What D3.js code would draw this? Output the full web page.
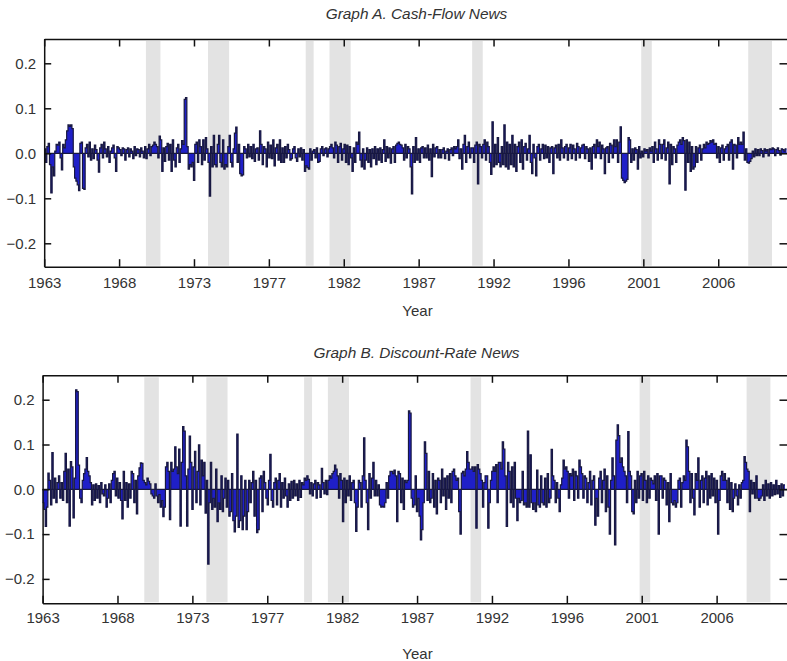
<!DOCTYPE html>
<html>
<head>
<meta charset="utf-8">
<script src="https://d3js.org/d3.v7.min.js"></script>
<style>
  body { margin: 0; background: #fff; }
  svg { display: block; }
</style>
</head>
<body>
<svg id="chart" width="787" height="661"></svg>
<script>
// monthly news terms, first value is 1963:07, one row per 12 months
var startYear = 1963.5;

var cashFlowNews = [].concat(
  [.01,-.02,.015,.022,-.025,-.088,-.03,-.05,.005,.02,.018,.025],
  [-.01,-.037,.02,.012,.03,.05,.063,.06,.063,.055,-.03,-.055],
  [-.062,-.07,-.083,.022,.025,-.078,-.08,.012,.02,-.008,.025,-.015],
  [.01,-.012,.018,.008,-.015,-.042,.012,.02,-.01,.025,.01,-.008],
  [.015,-.02,.005,.012,.018,-.01,-.04,.015,.012,.008,-.005,.012],
  [.01,-.015,.008,.012,-.008,.01,.005,-.012,.015,-.005,.01,.008],
  [-.008,.012,.005,-.01,.015,-.012,.01,.02,-.005,.015,.018,.025],
  [.02,.015,-.01,.038,.03,-.04,.012,-.018,.015,.022,-.015,.02],
  [-.04,.03,-.015,-.03,.012,.02,-.02,.01,.028,.02,.12,.124],
  [.015,-.035,-.025,-.03,-.02,-.06,.02,.025,-.02,.03,.015,-.025],
  [.03,-.015,.035,.01,-.02,-.095,.015,-.03,.04,-.025,-.03,.02],
  [.04,-.02,-.03,.03,-.035,-.025,-.03,.015,.04,-.02,-.03,.01],
  [.045,.058,-.02,.02,-.045,-.05,-.048,.015,.01,-.01,.02,-.008],
  [.015,-.012,.02,-.018,.01,.012,-.015,.05,.02,-.025,.015,.01],
  [-.03,.025,-.01,.018,-.012,.03,-.028,.012,.02,-.015,.03,-.02],
  [.012,-.02,.015,-.01,.02,.008,-.015,-.012,.01,.015,-.01,-.018],
  [.01,-.008,.012,-.015,.008,-.04,-.028,-.032,-.035,.01,-.015,.005],
  [.008,-.01,.012,-.02,-.018,.01,.015,-.005,.01,.012,-.008,.01],
  [.015,.02,.012,-.01,.025,.018,-.02,.015,.022,-.015,.01,.02],
  [-.02,.018,-.025,.015,-.01,-.04,.012,-.02,.025,.02,.047,-.015],
  [-.03,.01,-.035,-.015,.012,-.02,.008,-.03,.01,-.012,.015,-.025],
  [.01,-.015,.012,-.02,.008,.03,-.018,.015,-.01,.012,-.022,.01],
  [.015,-.02,.018,.022,.025,.02,.018,.012,-.015,.02,-.01,.015],
  [.01,-.03,-.09,.015,-.02,.035,-.015,.01,-.02,.012,.015,-.01],
  [.012,-.01,.018,-.015,.01,-.052,.02,-.008,.012,.015,-.01,.008],
  [-.01,.008,.012,-.012,.005,.01,-.015,.008,.012,-.005,.015,.01],
  [.015,.03,-.012,.01,-.035,.02,.04,-.02,.015,.025,-.01,.012],
  [.012,-.02,.018,.025,-.068,.02,.015,-.01,.02,.03,-.015,.025],
  [.015,-.02,-.047,.07,-.03,.02,-.025,.035,-.02,-.03,.015,-.025],
  [.063,-.03,.025,-.035,.02,-.025,.04,-.03,.02,-.04,.015,.025],
  [-.02,.03,-.035,.015,.022,-.015,.01,.04,-.02,-.045,.02,-.01],
  [-.05,.015,.02,-.015,.01,.02,-.012,.018,-.01,.015,-.02,.012],
  [.015,-.045,.012,.018,-.01,.02,-.015,.03,.012,-.01,.015,.02],
  [-.015,.012,.02,-.012,.018,.01,-.015,.022,.015,-.01,.012,.018],
  [.02,-.012,.015,.01,-.018,.012,-.035,.015,.02,-.01,.03,.015],
  [.025,-.012,.018,.01,-.045,.012,.015,-.02,.022,.018,-.01,.03],
  [.015,.03,-.02,.025,.059,-.055,-.06,-.065,-.062,-.058,.035,.03],
  [-.02,.01,-.015,.012,.008,-.035,.015,-.01,.005,-.008,.01,.005],
  [.008,-.01,.012,.005,.015,-.02,.025,.01,-.015,.03,.02,-.012],
  [.02,.03,-.015,.012,.025,-.068,.02,-.025,.015,.01,-.02,.018],
  [.025,.03,.02,.035,.028,-.082,.03,-.02,.025,-.04,.015,-.035],
  [-.03,.015,-.02,.012,.018,-.015,.01,.02,.012,.025,.02,.022],
  [.028,.025,.03,.02,.022,-.01,.015,-.02,.012,.018,-.015,.01],
  [.015,.02,-.015,.025,.03,-.035,.02,.018,-.01,.035,.02,.025],
  [.02,.047,-.015,.01,-.02,-.022,-.018,-.012,.005,-.008,.01,-.005],
  [.008,-.005,.01,.006,-.008,.01,.005,.008,-.006,.01,.008,.012],
  [.01,-.005,.008,.012,.006,-.004,.01,.008,.005,.01]
);

var discountRateNews = [].concat(
  [-.03,-.045,-.083,-.04,.036,.02,-.035,.082,-.02,.025,-.03,.015],
  [.03,-.02,.015,-.025,.04,.08,-.03,.045,-.082,.062,.05,-.064],
  [.025,.222,.218,.054,-.02,-.03,.02,.035,.045,.071,.04,.03],
  [.015,-.035,.01,-.025,.012,-.02,.008,-.03,.015,-.01,-.015,.01],
  [-.04,-.02,.012,-.03,.02,.035,.04,-.015,.025,-.02,.015,-.025],
  [-.066,.04,-.025,.015,-.04,.012,-.02,.04,.035,-.03,.02,-.055],
  [.03,.048,.059,.058,.02,.015,.01,.025,.018,.012,-.01,-.015],
  [-.02,.012,-.015,-.03,-.012,-.04,-.025,-.061,-.04,.05,.06,.04],
  [-.068,.06,.04,.045,.095,.05,.035,.09,-.082,.06,.14,.13],
  [.03,-.082,.045,.119,.06,-.045,.05,.085,-.03,.04,.099,-.035],
  [.065,.03,.06,-.053,.02,-.167,-.03,.06,-.045,-.02,-.04,.045],
  [-.072,-.03,-.045,.03,-.05,-.02,.025,-.04,.02,-.06,-.05,.035],
  [-.07,-.095,-.06,.123,-.085,-.07,.03,-.09,-.06,.02,-.09,-.05],
  [.02,-.03,.015,.04,-.06,.02,-.097,-.09,.025,.03,-.05,.04],
  [.015,-.02,-.035,.02,.078,-.025,-.04,.015,.025,-.035,.02,.035],
  [-.04,.015,-.02,.025,-.015,-.04,.012,-.025,.018,-.02,.02,-.015],
  [.012,-.025,.02,-.018,.015,.01,.025,.02,.03,.022,-.01,.015],
  [-.015,.012,.02,-.02,.015,.01,-.018,.047,.015,-.01,.02,-.012],
  [.02,.03,.025,.035,.04,.054,.045,.03,-.02,.035,.02,-.072],
  [.025,-.03,.02,-.015,.03,-.025,.015,.02,-.03,-.094,-.04,.02],
  [.015,-.04,.03,.115,.02,-.03,-.09,.035,-.02,.025,.06,-.015],
  [.02,-.015,.01,-.035,-.04,-.038,-.04,-.03,.015,-.02,.03,.04],
  [.04,.035,.043,.03,-.072,.04,.035,-.03,.025,-.045,.02,.015],
  [.02,.175,.17,-.02,-.04,-.035,.03,-.05,-.02,-.06,-.113,-.09],
  [-.03,.106,.08,-.025,.04,-.03,-.02,.035,-.04,.02,-.055,.025],
  [.02,-.03,.045,-.015,.025,-.045,.03,-.02,.035,-.03,.04,.045],
  [.03,.02,.025,-.05,-.1,.036,.04,.03,.045,.084,.06,.045],
  [.045,.05,.04,.05,-.087,.055,.045,.035,.02,-.04,.015,.03],
  [.03,-.087,-.03,.02,.04,.05,.04,.055,-.03,.06,.06,.045],
  [.106,.09,.03,-.083,.06,.04,-.03,.05,-.04,.06,-.02,-.07],
  [-.02,-.03,-.025,.04,-.035,-.03,-.04,.13,-.04,.077,-.03,-.045],
  [-.03,-.05,.043,-.035,-.04,.03,-.03,-.035,.025,-.04,.035,-.03],
  [-.02,.089,.03,.02,-.03,.015,-.02,-.05,.01,.025,.065,.045],
  [.05,.04,-.02,.035,.03,.045,-.025,.04,.03,-.02,.065,.05],
  [.035,-.02,.03,.025,-.03,.015,.04,-.035,.02,.03,-.08,-.02],
  [-.06,.025,.04,-.03,.02,.045,-.05,.03,-.04,-.1,.02,.07],
  [.03,-.124,.11,.144,.12,.06,.07,.05,.04,.03,-.03,.129],
  [.04,.03,-.05,-.055,.02,-.03,.04,-.02,.03,.035,-.025,.04],
  [.02,-.03,.03,-.02,.025,.02,.012,.03,-.025,.035,-.1,.03],
  [.03,-.02,.025,.02,-.035,.015,-.072,.035,-.03,-.035,-.025,-.04],
  [-.03,.02,.025,-.04,.015,.03,.02,.11,.095,.04,-.03,.035],
  [-.02,-.057,.035,.02,.07,-.04,.02,.03,-.03,.025,.04,-.035],
  [.03,-.02,.035,-.015,.025,-.03,.02,-.1,-.025,.03,.04,.02],
  [.035,.02,-.03,.025,-.045,.015,-.05,-.02,.012,-.015,-.035,.01],
  [-.02,.015,.02,.073,.06,.045,.04,-.05,.02,-.01,.015,-.02],
  [.03,-.02,-.025,-.02,-.015,.01,-.025,.02,-.015,.012,-.02,.015],
  [-.015,.01,-.012,.02,-.01,.008,-.018,.012,-.015,.01]
);

// NBER recessions, decimal years
var recessions = [
  [1969.917, 1970.833], [1973.833, 1975.167], [1980.0, 1980.5],
  [1981.5, 1982.833], [1990.5, 1991.167], [2001.167, 2001.833],
  [2007.917, 2009.417]
];

var tickLabels = ['1963', '1968', '1973', '1977', '1982', '1987', '1992', '1996', '2001', '2006'];
var tickStep = 4.725; // years between labelled ticks
var yTicks = [-0.2, -0.1, 0.0, 0.1, 0.2];

var fontFamily = '"Liberation Sans", Arial, sans-serif';
var pxPerYear = 15.85;
var rightEdge = 787.5;

var panels = [
  { title: 'Graph A. Cash-Flow News', values: cashFlowNews,
    left: 44.2, top: 39, bottom: 266.7, yMin: -0.252, yMax: 0.254,
    titleY: 18.7, tickPad: 11, yearY: 316 },
  { title: 'Graph B. Discount-Rate News', values: discountRateNews,
    left: 42.6, top: 375.3, bottom: 603.3, yMin: -0.2545, yMax: 0.2545,
    titleY: 358.3, tickPad: 9.5, yearY: 659 }
];

var svg = d3.select('#chart');

function styleAxis(sel) {
  sel.attr('font-size', 15).attr('font-family', fontFamily);
  sel.selectAll('path, line').attr('stroke', '#111').attr('stroke-width', 1.5);
  sel.selectAll('text').attr('fill', '#333');
}

function yFormat(d) {
  return d3.format('.1f')(d).replace('-', '\u2212');
}

function drawPanel(p) {
  var x = d3.scaleLinear()
    .domain([startYear, startYear + (rightEdge - p.left) / pxPerYear])
    .range([p.left, rightEdge]);
  var y = d3.scaleLinear().domain([p.yMin, p.yMax]).range([p.bottom, p.top]);
  var g = svg.append('g');

  g.selectAll('rect.band').data(recessions).enter().append('rect')
    .attr('class', 'band')
    .attr('x', function (d) { return x(d[0]); })
    .attr('width', function (d) { return x(d[1]) - x(d[0]); })
    .attr('y', p.top + 2)
    .attr('height', p.bottom - p.top - 3)
    .attr('fill', '#e3e3e3');

  var pts = p.values.map(function (v, i) { return { t: startYear + i / 12, v: v }; });
  pts.push({ t: startYear + p.values.length / 12, v: p.values[p.values.length - 1] });

  var area = d3.area().curve(d3.curveStepAfter)
    .x(function (d) { return x(d.t); })
    .y0(y(0))
    .y1(function (d) { return y(d.v); });
  var line = d3.line().curve(d3.curveStepAfter)
    .x(function (d) { return x(d.t); })
    .y(function (d) { return y(d.v); });

  g.append('path').datum(pts).attr('d', area).attr('fill', '#1f1fc8');
  g.append('path').datum(pts).attr('d', line)
    .attr('fill', 'none').attr('stroke', '#181840').attr('stroke-width', 1.2);

  g.append('line')
    .attr('x1', p.left).attr('x2', rightEdge)
    .attr('y1', y(0)).attr('y2', y(0))
    .attr('stroke', '#181840').attr('stroke-width', 1.3);

  var tickPos = tickLabels.map(function (d, i) { return startYear + i * tickStep; });

  g.append('g').attr('transform', 'translate(0,' + p.bottom + ')')
    .call(d3.axisBottom(x).tickValues(tickPos)
      .tickFormat(function (d, i) { return tickLabels[i]; })
      .tickSize(-7.5).tickSizeOuter(0).tickPadding(p.tickPad))
    .call(styleAxis);
  g.append('g').attr('transform', 'translate(0,' + p.top + ')')
    .call(d3.axisTop(x).tickValues(tickPos).tickFormat('')
      .tickSize(-7.5).tickSizeOuter(0))
    .call(styleAxis);
  g.append('g').attr('transform', 'translate(' + p.left + ',0)')
    .call(d3.axisLeft(y).tickValues(yTicks).tickFormat(yFormat)
      .tickSize(-7).tickSizeOuter(0).tickPadding(8))
    .call(styleAxis);
  g.append('g').attr('transform', 'translate(' + rightEdge + ',0)')
    .call(d3.axisRight(y).tickValues(yTicks).tickFormat('')
      .tickSize(-8).tickSizeOuter(0))
    .call(styleAxis);

  g.append('text')
    .attr('x', 416.5).attr('y', p.titleY)
    .attr('text-anchor', 'middle')
    .attr('font-family', fontFamily).attr('font-size', 15.4)
    .attr('font-style', 'italic').attr('fill', '#333')
    .text(p.title);
  g.append('text')
    .attr('x', 417.5).attr('y', p.yearY)
    .attr('text-anchor', 'middle')
    .attr('font-family', fontFamily).attr('font-size', 15)
    .attr('fill', '#333')
    .text('Year');
}

panels.forEach(drawPanel);
</script>
</body>
</html>
